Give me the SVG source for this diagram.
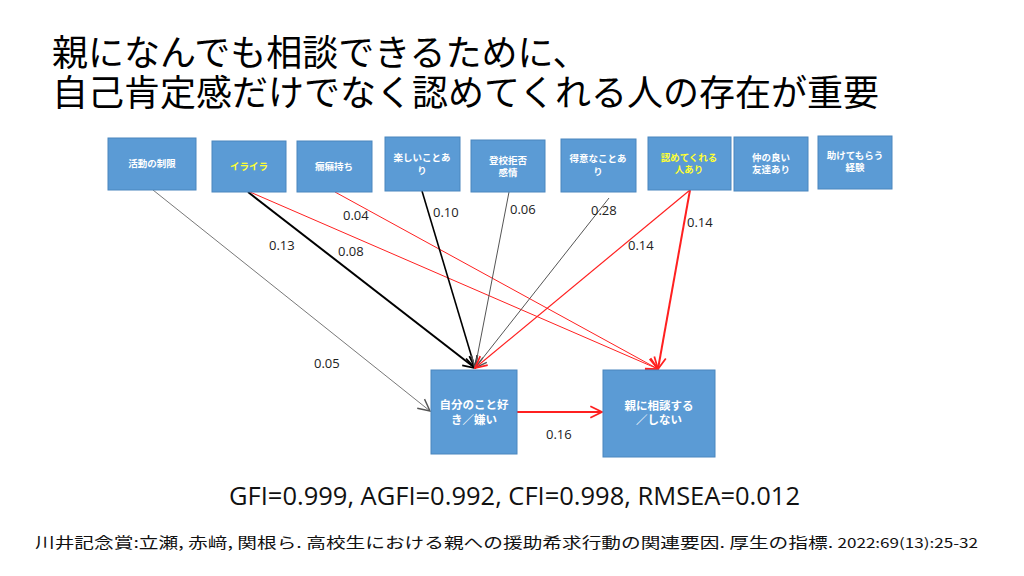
<svg xmlns="http://www.w3.org/2000/svg" width="1024" height="576" viewBox="0 0 1024 576">
<defs>
<style>
.box{fill:#5B9BD5;stroke:#4A86BE;stroke-width:1}
.lbl{font-family:"Noto Sans CJK JP","Noto Sans",sans-serif;font-weight:bold;font-size:9.5px;fill:#FFFFFF;text-anchor:middle}
.yel{fill:#FFFF33}
.big{font-size:11.5px}
.num{font-family:"Open Sans","Liberation Sans",sans-serif;font-size:13px;fill:#222}
.title{font-family:"Noto Sans CJK JP",sans-serif;font-size:36px;fill:#000}
.r{stroke:#FF2020;fill:none}
.k{stroke:#000;fill:none}
.g{stroke:#555;fill:none}
</style>
<marker id="ar" markerUnits="userSpaceOnUse" markerWidth="14" markerHeight="14" refX="11" refY="6" orient="auto" viewBox="0 0 12 12"><path d="M1,1 L11,6 L1,11" fill="none" stroke="#FF2020" stroke-width="1.5"/></marker>
<marker id="ak" markerUnits="userSpaceOnUse" markerWidth="14" markerHeight="14" refX="11" refY="6" orient="auto" viewBox="0 0 12 12"><path d="M1,1 L11,6 L1,11" fill="none" stroke="#000" stroke-width="1.5"/></marker>
<marker id="ag" markerUnits="userSpaceOnUse" markerWidth="14" markerHeight="14" refX="11" refY="6" orient="auto" viewBox="0 0 12 12"><path d="M1,1 L11,6 L1,11" fill="none" stroke="#555" stroke-width="1.2"/></marker>
</defs>
<rect width="1024" height="576" fill="#FFFFFF"/>
<text class="title" x="52" y="66">親になんでも相談できるために、</text>
<text class="title" x="52" y="106">自己肯定感だけでなく認めてくれる人の存在が重要</text>

<g id="connectors">
<line class="g" x1="153" y1="190" x2="430" y2="411" stroke-width="0.8" stroke="#777" marker-end="url(#ag)"/>
<line class="k" x1="248" y1="192" x2="475" y2="368" stroke-width="2" marker-end="url(#ak)"/>
<line class="r" x1="250" y1="192" x2="658" y2="369" stroke-width="1" marker-end="url(#ar)"/>
<line class="r" x1="335" y1="192" x2="658" y2="369" stroke-width="1" marker-end="url(#ar)"/>
<line class="k" x1="422" y1="191" x2="475" y2="368" stroke-width="1.6" marker-end="url(#ak)"/>
<line class="g" x1="509" y1="192" x2="475" y2="368" stroke-width="1" stroke="#333" marker-end="url(#ag)"/>
<line class="g" x1="609" y1="198" x2="475" y2="368" stroke-width="1" stroke="#333" marker-end="url(#ag)"/>
<line class="r" x1="690" y1="190" x2="475" y2="368" stroke-width="1.2" marker-end="url(#ar)"/>
<line class="r" x1="690" y1="190" x2="658" y2="369" stroke-width="2" marker-end="url(#ar)"/>
<line class="r" x1="517" y1="412" x2="602" y2="412" stroke-width="2" marker-end="url(#ar)"/>
<text class="num" x="314" y="368">0.05</text>
<text class="num" x="269" y="250">0.13</text>
<text class="num" x="338" y="256">0.08</text>
<text class="num" x="343" y="220">0.04</text>
<text class="num" x="433" y="217">0.10</text>
<text class="num" x="510" y="214">0.06</text>
<text class="num" x="591" y="215">0.28</text>
<text class="num" x="628" y="250">0.14</text>
<text class="num" x="687" y="227">0.14</text>
<text class="num" x="546" y="439">0.16</text>
</g>

<g id="n1"><rect class="box" x="108" y="138" width="88" height="52"/><text class="lbl" x="152" y="167">活動の制限</text></g>
<g id="n2"><rect class="box" x="212" y="141" width="74" height="51"/><text class="lbl yel" x="249" y="170">イライラ</text></g>
<g id="n3"><rect class="box" x="297" y="141" width="75" height="51"/><text class="lbl" x="334" y="170">癇癪持ち</text></g>
<g id="n4"><rect class="box" x="385" y="137" width="75" height="54"/><text class="lbl" x="422" y="161">楽しいことあ</text><text class="lbl" x="422" y="174">り</text></g>
<g id="n5"><rect class="box" x="471" y="140" width="74" height="52"/><text class="lbl" x="508" y="164">登校拒否</text><text class="lbl" x="508" y="176">感情</text></g>
<g id="n6"><rect class="box" x="561" y="139" width="75" height="53"/><text class="lbl" x="598" y="162">得意なことあ</text><text class="lbl" x="598" y="175">り</text></g>
<g id="n7"><rect class="box" x="648" y="137" width="83" height="53"/><text class="lbl yel" x="689" y="161">認めてくれる</text><text class="lbl yel" x="689" y="173">人あり</text></g>
<g id="n8"><rect class="box" x="734" y="137" width="74" height="54"/><text class="lbl" x="771" y="161">仲の良い</text><text class="lbl" x="771" y="173">友達あり</text></g>
<g id="n9"><rect class="box" x="818" y="136" width="74" height="53"/><text class="lbl" x="855" y="159">助けてもらう</text><text class="lbl" x="855" y="171">経験</text></g>
<g id="n10"><rect class="box" x="431" y="370" width="86" height="84"/><text class="lbl big" x="474" y="409">自分のこと好</text><text class="lbl big" x="474" y="424">き／嫌い</text></g>
<g id="n11"><rect class="box" x="603" y="370" width="112" height="87"/><text class="lbl big" x="659" y="410">親に相談する</text><text class="lbl big" x="659" y="424">／しない</text></g>

<text x="229" y="505" font-family="'Open Sans','Liberation Sans',sans-serif" font-size="26" fill="#111" textLength="571" lengthAdjust="spacingAndGlyphs">GFI=0.999, AGFI=0.992, CFI=0.998, RMSEA=0.012</text>
<text x="35" y="548" font-family="'Noto Sans CJK JP',sans-serif" font-size="15" fill="#111" textLength="943" lengthAdjust="spacingAndGlyphs">川井記念賞:立瀬, 赤﨑, 関根ら. 高校生における親への援助希求行動の関連要因. 厚生の指標. <tspan font-size="13">2022:69(13):25-32</tspan></text>
</svg>
